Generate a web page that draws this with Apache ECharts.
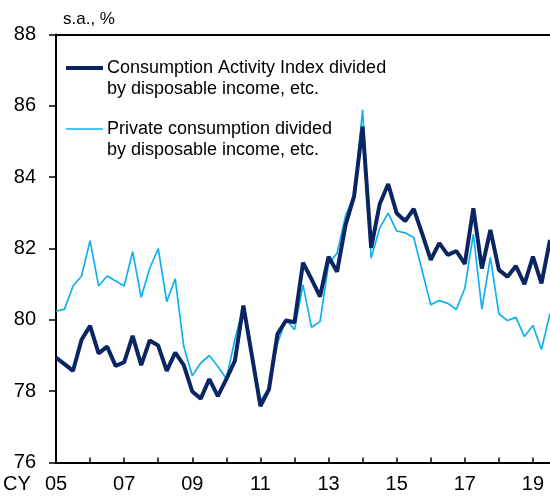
<!DOCTYPE html>
<html>
<head>
<meta charset="utf-8">
<script src="https://cdn.jsdelivr.net/npm/echarts@6/dist/echarts.min.js"></script>
<style>
  html, body { margin: 0; padding: 0; background: #fff; }
  #chart { width: 550px; height: 497px; }
</style>
</head>
<body>
<div id="chart"></div>
<script>
// Quarterly series, starting 2005 Q1 (s.a., %)
const startYear = 2005;
const yearTicks = ['05', '07', '09', '11', '13', '15', '17', '19'];

// Consumption Activity Index divided by disposable income, etc.
const activityRatio = [
  78.94, 78.76, 78.57, 79.44, 79.83, 79.06, 79.25, 78.71,
  78.81, 79.55, 78.73, 79.42, 79.28, 78.57, 79.08, 78.73,
  77.99, 77.79, 78.34, 77.86, 78.34, 78.85, 80.40, 79.00,
  77.58, 78.05, 79.60, 79.98, 79.93, 81.60, 81.14, 80.65,
  81.77, 81.35, 82.66, 83.47, 85.42, 82.02, 83.24, 83.81,
  82.99, 82.77, 83.11, 82.41, 81.68, 82.15, 81.82, 81.93,
  81.57, 83.13, 81.44, 82.52, 81.40, 81.21, 81.51, 81.00,
  81.77, 81.02, 82.24
];

// Private consumption divided by disposable income, etc.
const privateRatio = [
  80.24, 80.30, 80.95, 81.23, 82.22, 80.95, 81.23, 81.09,
  80.95, 81.91, 80.63, 81.44, 82.00, 80.51, 81.15, 79.25,
  78.43, 78.79, 79.00, 78.69, 78.35, 79.44, 80.37, 79.08,
  77.73, 78.08, 79.34, 80.02, 79.72, 80.98, 79.79, 79.95,
  81.56, 81.87, 82.92, 83.50, 85.89, 81.73, 82.57, 82.99,
  82.49, 82.44, 82.31, 81.37, 80.42, 80.54, 80.46, 80.29,
  80.88, 82.40, 80.30, 81.75, 80.17, 79.98, 80.07, 79.53,
  79.84, 79.17, 80.18
];

const darkBlue = '#0b2562';
const lightBlue = '#10b0ef';
const fontFam = '"Liberation Sans", Arial, sans-serif';

const toPoints = arr => arr.map((v, i) => [startYear + i / 4, v]);

const chart = echarts.init(document.getElementById('chart'), null, { renderer: 'canvas' });

chart.setOption({
  animation: false,
  grid: { left: 56, right: 0, top: 34.5, bottom: 34.5 },
  xAxis: [
    {
      type: 'value',
      min: 2005,
      max: 2019.5,
      interval: 1,
      axisLine: { show: true, lineStyle: { color: '#000', width: 2 } },
      axisTick: { show: true, inside: true, length: 5, lineStyle: { color: '#000', width: 1.5 } },
      splitLine: { show: false },
      axisLabel: {
        show: true,
        margin: 12,
        fontSize: 20,
        color: '#000',
        fontFamily: fontFam,
        showMaxLabel: false,
        formatter: v => {
          const s = String(v % 100).padStart(2, '0');
          return yearTicks.includes(s) ? s : '';
        }
      }
    },
    {
      type: 'value',
      position: 'top',
      min: 2005,
      max: 2019.5,
      axisLine: { show: true, lineStyle: { color: '#000', width: 2 } },
      axisTick: { show: false },
      axisLabel: { show: false },
      splitLine: { show: false }
    }
  ],
  yAxis: {
    type: 'value',
    min: 76,
    max: 88,
    interval: 2,
    axisLine: { show: true, lineStyle: { color: '#000', width: 2 } },
    axisTick: { show: true, length: 7, lineStyle: { color: '#000', width: 1.5 } },
    splitLine: { show: false },
    axisLabel: { margin: 20, fontSize: 20, color: '#000', fontFamily: fontFam }
  },
  series: [
    {
      name: 'Private consumption divided by disposable income, etc.',
      type: 'line',
      data: toPoints(privateRatio),
      symbol: 'none',
      lineStyle: { color: lightBlue, width: 1.7 },
      z: 2
    },
    {
      name: 'Consumption Activity Index divided by disposable income, etc.',
      type: 'line',
      data: toPoints(activityRatio),
      symbol: 'none',
      lineStyle: { color: darkBlue, width: 4 },
      z: 3
    }
  ],
  graphic: [
    { type: 'text', left: 63, top: 11, style: { text: 's.a., %', font: '17px ' + fontFam, fill: '#000' } },
    { type: 'text', left: 3, top: 474, style: { text: 'CY', font: '20px ' + fontFam, fill: '#000' } },
    { type: 'line', shape: { x1: 66, y1: 68, x2: 103, y2: 68 }, style: { stroke: darkBlue, lineWidth: 4 } },
    {
      type: 'text', x: 107, y: 57.5,
      style: {
        text: 'Consumption Activity Index divided\nby disposable income, etc.',
        font: '18px ' + fontFam, lineHeight: 21, fill: '#000', verticalAlign: 'top'
      }
    },
    { type: 'line', shape: { x1: 66, y1: 129, x2: 103, y2: 129 }, style: { stroke: lightBlue, lineWidth: 1.7 } },
    {
      type: 'text', x: 107, y: 118.5,
      style: {
        text: 'Private consumption divided\nby disposable income, etc.',
        font: '18px ' + fontFam, lineHeight: 21, fill: '#000', verticalAlign: 'top'
      }
    }
  ]
});
</script>
</body>
</html>
